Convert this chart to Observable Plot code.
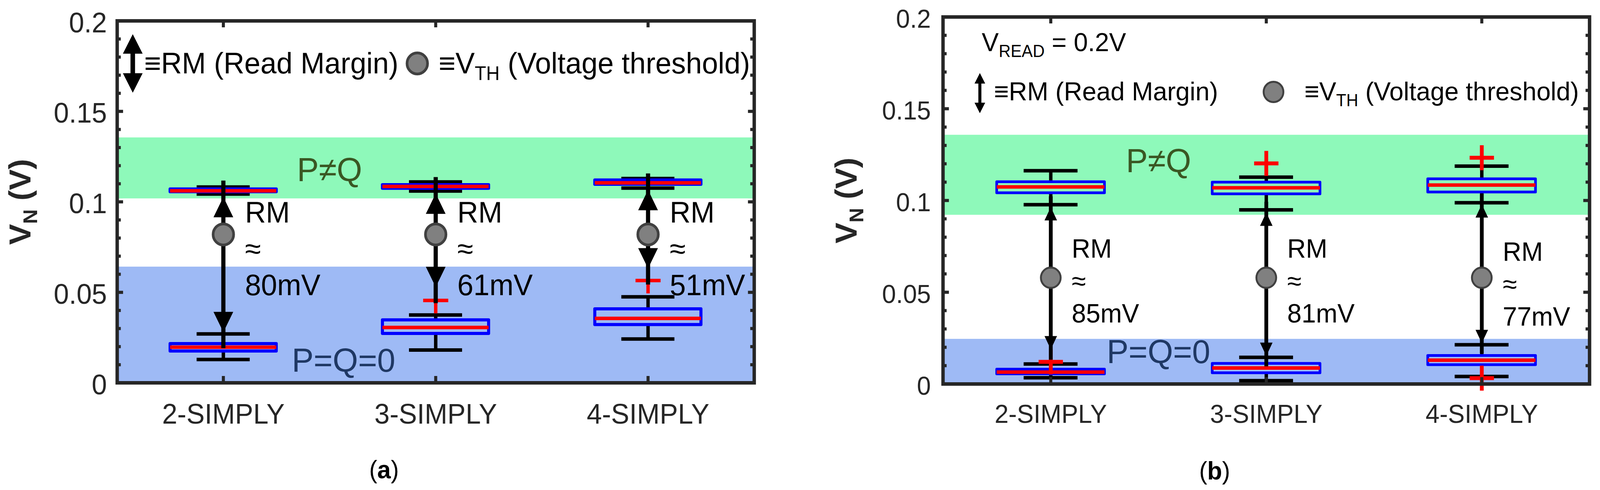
<!DOCTYPE html>
<html><head><meta charset="utf-8">
<script src="https://cdn.jsdelivr.net/npm/d3@7"></script>
<script src="https://cdn.jsdelivr.net/npm/@observablehq/plot@0.6"></script>
<style>
html,body{margin:0;padding:0;background:#fff;overflow:hidden;}
#wrap{display:flex;width:100vw;height:100vh;overflow:hidden;}
svg text{font-family:"Liberation Sans",Arial,Helvetica,sans-serif;}
</style></head><body><div id="wrap"></div>
<script>
// ---------- data ----------
const categories = ["2-SIMPLY", "3-SIMPLY", "4-SIMPLY"];
const xTicks = [1, 2, 3];
const yTicks = [0, 0.05, 0.1, 0.15, 0.2];
const yTickLabels = ["0", "0.05", "0.1", "0.15", "0.2"];
const yMinorTicks = [0.01,0.02,0.03,0.04,0.06,0.07,0.08,0.09,0.11,0.12,0.13,0.14,0.16,0.17,0.18,0.19];

// panel (a)
const aHighMed = [0.1061, 0.1085, 0.1105];
const aHighQ1  = [0.1055, 0.1074, 0.1096];
const aHighQ3  = [0.1070, 0.1094, 0.1120];
const aHighLo  = [0.1043, 0.1060, 0.1076];
const aHighHi  = [0.1082, 0.1110, 0.1129];
const aLowMed  = [0.0197, 0.0306, 0.0356];
const aLowQ1   = [0.0175, 0.0272, 0.0321];
const aLowQ3   = [0.0216, 0.0347, 0.0408];
const aLowLo   = [0.0129, 0.0181, 0.0242];
const aLowHi   = [0.0270, 0.0375, 0.0475];
const aOutCat  = ["3-SIMPLY", "4-SIMPLY"];
const aOutVal  = [0.0455, 0.0565];
const aArrowHi = [0.1027, 0.1046, 0.1066];
const aArrowLo = [0.0280, 0.0529, 0.0632];
const aVth     = [0.0820, 0.0820, 0.0820];
const aRM      = ["80mV", "61mV", "51mV"];
const aGreen   = [0.1018, 0.1355];
const aBlue    = [0, 0.0641];

// panel (b)
const bHighMed = [0.1074, 0.1069, 0.1084];
const bHighQ1  = [0.1041, 0.1035, 0.1045];
const bHighQ3  = [0.1101, 0.1099, 0.1117];
const bHighLo  = [0.0977, 0.0949, 0.0988];
const bHighHi  = [0.1162, 0.1127, 0.1187];
const bLowMed  = [0.0065, 0.0087, 0.0130];
const bLowQ1   = [0.0054, 0.0060, 0.0104];
const bLowQ3   = [0.0080, 0.0111, 0.0154];
const bLowLo   = [0.0034, 0.0018, 0.0041];
const bLowHi   = [0.0109, 0.0145, 0.0214];
const bOutCat  = ["3-SIMPLY", "4-SIMPLY", "2-SIMPLY", "4-SIMPLY"];
const bOutVal  = [0.1202, 0.1233, 0.0121, 0.0032];
const bArrowHi = [0.0964, 0.0934, 0.0979];
const bArrowLo = [0.0189, 0.0153, 0.0223];
const bVth     = [0.0579, 0.0579, 0.0579];
const bRM      = ["85mV", "81mV", "77mV"];
const bGreen   = [0.0921, 0.1357];
const bBlue    = [0, 0.0245];

// ---------- symbols ----------
const plusSym = r => ({draw(c){c.moveTo(-r,0);c.lineTo(r,0);c.moveTo(0,-r);c.lineTo(0,r);}});
const triUp = (w,l) => ({draw(c){c.moveTo(0,0);c.lineTo(w/2,l);c.lineTo(-w/2,l);c.closePath();}});
const triDown = (w,l) => ({draw(c){c.moveTo(0,0);c.lineTo(w/2,-l);c.lineTo(-w/2,-l);c.closePath();}});
const dblArrow = (L,l,w,s) => ({draw(c){const h=L/2;
  c.moveTo(0,-h);c.lineTo(w/2,-h+l);c.lineTo(s/2,-h+l);c.lineTo(s/2,h-l);c.lineTo(w/2,h-l);
  c.lineTo(0,h);c.lineTo(-w/2,h-l);c.lineTo(-s/2,h-l);c.lineTo(-s/2,-h+l);c.lineTo(-w/2,-h+l);c.closePath();}});

const GREEN = "#8ef9ba", BLUE = "#9ebaf5", AX = "#262626";

function build(p) {
  const fw = p.width - p.marginLeft - p.marginRight;
  const fh = p.height - p.marginTop - p.marginBottom;
  const rows = (med,q1,q3,lo,hi) => categories.map((c,k)=>({i:k+1, med:med[k], q1:q1[k], q3:q3[k], lo:lo[k], hi:hi[k]}));
  const boxes = rows(p.highMed,p.highQ1,p.highQ3,p.highLo,p.highHi).concat(rows(p.lowMed,p.lowQ1,p.lowQ3,p.lowLo,p.lowHi));
  const outliers = p.outCat.map((c,k)=>({i: categories.indexOf(c)+1, v: p.outVal[k]}));
  const arr = categories.map((c,k)=>({i:k+1, hi:p.arrowHi[k], lo:p.arrowLo[k], vth:p.vth[k], rm:p.rm[k], ly:p.labelY[k]}));
  const isMajor = d => yTicks.includes(d);
  const allY = yTicks.concat(yMinorTicks);
  const tl = d => isMajor(d) ? 16 : 10;
  const marks = [
    Plot.rect([p.green], {y1: d=>d[0], y2: d=>d[1], fill: GREEN}),
    Plot.rect([p.blue], {y1: d=>d[0], y2: d=>d[1], fill: BLUE}),
    Plot.text(["P≠Q"], {x: p.pnqX, y: p.pnqY, text: d=>d, fontSize: p.regionFont, fill: "#3a5723", lineAnchor: "middle"}),
    Plot.text(["P=Q=0"], {x: p.pqX, y: p.pqY, text: d=>d, fontSize: p.regionFont, fill: "#1f3864", lineAnchor: "middle"}),
    Plot.ruleX(boxes, {x: "i", y1: "q3", y2: "hi", stroke: "#000", strokeWidth: p.lw}),
    Plot.ruleX(boxes, {x: "i", y1: "lo", y2: "q1", stroke: "#000", strokeWidth: p.lw}),
    Plot.ruleY(boxes, {y: "hi", x1: d=>d.i-0.125, x2: d=>d.i+0.125, stroke: "#000", strokeWidth: p.lw}),
    Plot.ruleY(boxes, {y: "lo", x1: d=>d.i-0.125, x2: d=>d.i+0.125, stroke: "#000", strokeWidth: p.lw}),
    Plot.rect(boxes, {x1: d=>d.i-0.25, x2: d=>d.i+0.25, y1: "q1", y2: "q3", fill: "none", stroke: "#0000ff", strokeWidth: p.boxW, strokeLinejoin: "round"}),
    Plot.ruleY(boxes, {y: "med", x1: d=>d.i-0.25, x2: d=>d.i+0.25, stroke: "#ff0000", strokeWidth: p.lw}),
    Plot.dot(outliers, {x: "i", y: "v", symbol: plusSym(p.plusR), fill: "none", stroke: "#ff0000", strokeWidth: p.plusW}),
    Plot.ruleX(arr, {x: "i", y1: "lo", y2: "hi", stroke: "#000", strokeWidth: p.shaft, insetTop: p.headL*0.8, insetBottom: p.headL*0.8}),
    Plot.dot(arr, {x: "i", y: "hi", symbol: triUp(p.headW, p.headL), fill: "#000", stroke: "none"}),
    Plot.dot(arr, {x: "i", y: "lo", symbol: triDown(p.headW, p.headL), fill: "#000", stroke: "none"}),
    Plot.dot(arr, {x: "i", y: "vth", r: p.circR, fill: "#808080", stroke: "#404040", strokeWidth: p.circW}),
    Plot.text(arr, {x: "i", y: "ly", text: d=>"RM\n≈\n"+d.rm, dx: p.labelDx, textAnchor: "start", lineAnchor: "top", lineHeight: 1.22, fontSize: p.labelFont, fill: "#000"}),
    ...p.legend,
    ...allY.map(d => Plot.ruleY([d], {y: v=>v, insetRight: fw - tl(d), stroke: AX, strokeWidth: 8})),
    ...allY.map(d => Plot.ruleY([d], {y: v=>v, insetLeft: fw - tl(d), stroke: AX, strokeWidth: 8})),
    Plot.ruleX(xTicks, {x: d=>d, insetBottom: fh - 17, stroke: AX, strokeWidth: 8}),
    Plot.ruleX(xTicks, {x: d=>d, insetTop: fh - 17, stroke: AX, strokeWidth: 8}),
    Plot.frame({stroke: AX, strokeWidth: 9}),
    Plot.axisY(yTicks, {tickSize: 0, tickPadding: p.yPad, tickFormat: d => yTickLabels[yTicks.indexOf(d)], fontSize: p.tickFont, color: AX, label: null, dy: 6}),
    Plot.axisX(xTicks, {tickSize: 0, tickPadding: 53, tickFormat: d => categories[d-1], fontSize: p.tickFont, color: AX, label: null}),
    Plot.text(["V_{N} (V)"], {frameAnchor: "left", dx: p.ylabDx, rotate: -90, fontSize: 80, fontWeight: "bold", textAnchor: "middle", lineAnchor: "middle", fill: AX}),
    Plot.text([p.caption], {frameAnchor: "bottom", dx: -136, dy: 224, fontSize: 64, textAnchor: "middle", lineAnchor: "middle", fill: "#000"})
  ];
  return Plot.plot({
    width: p.width, height: p.height,
    marginLeft: p.marginLeft, marginRight: p.marginRight, marginTop: p.marginTop, marginBottom: p.marginBottom,
    x: {domain: [0.5, 3.5], label: null},
    y: {domain: [0, 0.2], label: null},
    style: {fontFamily: "Liberation Sans, Arial, sans-serif", background: "white", overflow: "visible"},
    marks
  });
}

const legendA = [
  Plot.dot([0], {frameAnchor: "top-left", dx: 41, dy: 109, symbol: dblArrow(150, 50, 52, 12), fill: "#000", stroke: "none"}),
  Plot.text(["≡RM (Read Margin)"], {frameAnchor: "top-left", dx: 71, dy: 110, textAnchor: "start", lineAnchor: "middle", fontSize: 76, fill: "#000"}),
  Plot.dot([0], {frameAnchor: "top-left", dx: 790, dy: 109, r: 27, fill: "#808080", stroke: "#404040", strokeWidth: 7}),
  Plot.text(["≡V_{TH} (Voltage threshold)"], {frameAnchor: "top-right", dx: -11, dy: 110, textAnchor: "end", lineAnchor: "middle", fontSize: 76, fill: "#000"})
];
const legendB = [
  Plot.text(["V_{READ} = 0.2V"], {frameAnchor: "top-left", dx: 102, dy: 66, textAnchor: "start", lineAnchor: "middle", fontSize: 67, fill: "#000"}),
  Plot.dot([0], {frameAnchor: "top-left", dx: 97, dy: 195, symbol: dblArrow(103, 27, 28, 8), fill: "#000", stroke: "none"}),
  Plot.text(["≡RM (Read Margin)"], {frameAnchor: "top-left", dx: 134, dy: 192, textAnchor: "start", lineAnchor: "middle", fontSize: 67, fill: "#000"}),
  Plot.dot([0], {frameAnchor: "top-left", dx: 870, dy: 192, r: 26, fill: "#808080", stroke: "#404040", strokeWidth: 5}),
  Plot.text(["≡V_{TH} (Voltage threshold)"], {frameAnchor: "top-right", dx: -28, dy: 192, textAnchor: "end", lineAnchor: "middle", fontSize: 67, fill: "#000"})
];

const panelA = build({
  width: 2106, height: 1255, marginLeft: 308, marginRight: 121, marginTop: 53, marginBottom: 275,
  highMed: aHighMed, highQ1: aHighQ1, highQ3: aHighQ3, highLo: aHighLo, highHi: aHighHi,
  lowMed: aLowMed, lowQ1: aLowQ1, lowQ3: aLowQ3, lowLo: aLowLo, lowHi: aLowHi,
  outCat: aOutCat, outVal: aOutVal, arrowHi: aArrowHi, arrowLo: aArrowLo, vth: aVth, rm: aRM,
  labelY: [0.1027, 0.1027, 0.1027], green: aGreen, blue: aBlue,
  pnqX: 1.5, pnqY: 0.1174, pqX: 1.566, pqY: 0.0121,
  regionFont: 86, labelFont: 76, labelDx: 57, tickFont: 72, yPad: 27,
  lw: 9, boxW: 8, plusR: 33, plusW: 9, headW: 52, headL: 52, shaft: 11, circR: 27, circW: 7,
  ylabDx: -254, caption: "(*{a})", legend: legendA
});
const panelB = build({
  width: 2106, height: 1255, marginLeft: 376, marginRight: 28, marginTop: 43, marginBottom: 272,
  highMed: bHighMed, highQ1: bHighQ1, highQ3: bHighQ3, highLo: bHighLo, highHi: bHighHi,
  lowMed: bLowMed, lowQ1: bLowQ1, lowQ3: bLowQ3, lowLo: bLowLo, lowHi: bLowHi,
  outCat: bOutCat, outVal: bOutVal, arrowHi: bArrowHi, arrowLo: bArrowLo, vth: bVth, rm: bRM,
  labelY: [0.0813, 0.0813, 0.0796], green: bGreen, blue: bBlue,
  pnqX: 1.5, pnqY: 0.1213, pqX: 1.5, pqY: 0.0172,
  regionFont: 86, labelFont: 68, labelDx: 55, tickFont: 66, yPad: 32,
  lw: 9, boxW: 7, plusR: 32, plusW: 10, headW: 33, headL: 34, shaft: 10, circR: 26, circW: 5,
  ylabDx: -253, caption: "(*{b})", legend: legendB
});

const wrap = document.getElementById("wrap");
for (const svg of [panelA, panelB]) {
  svg.setAttribute("preserveAspectRatio", "none");
  svg.style.width = "50vw";
  svg.style.height = "100vh";
  svg.style.maxWidth = "none";
  svg.style.flex = "0 0 auto";
  wrap.appendChild(svg);
}

function markup(svg) {
  svg.querySelectorAll("text").forEach(t => {
    const s = t.textContent;
    if (!/_\{|\*\{/.test(s) || t.querySelector("tspan")) return;
    const fs = parseFloat(getComputedStyle(t).fontSize);
    const shift = 0.22 * fs;
    const parts = s.split(/(_\{[^}]*\}|\*\{[^}]*\})/).filter(x => x.length);
    t.textContent = "";
    let shifted = false;
    parts.forEach(part => {
      const ts = document.createElementNS("http://www.w3.org/2000/svg", "tspan");
      if (part.startsWith("_{")) {
        ts.textContent = part.slice(2, -1);
        ts.setAttribute("font-size", (0.65 * fs) + "px");
        ts.setAttribute("dy", shift);
        shifted = true;
      } else {
        ts.textContent = part.startsWith("*{") ? part.slice(2, -1) : part;
        if (part.startsWith("*{")) ts.setAttribute("font-weight", "bold");
        if (shifted) { ts.setAttribute("dy", -shift); shifted = false; }
      }
      t.appendChild(ts);
    });
  });
}
markup(panelA);
markup(panelB);
</script>
</body></html>
